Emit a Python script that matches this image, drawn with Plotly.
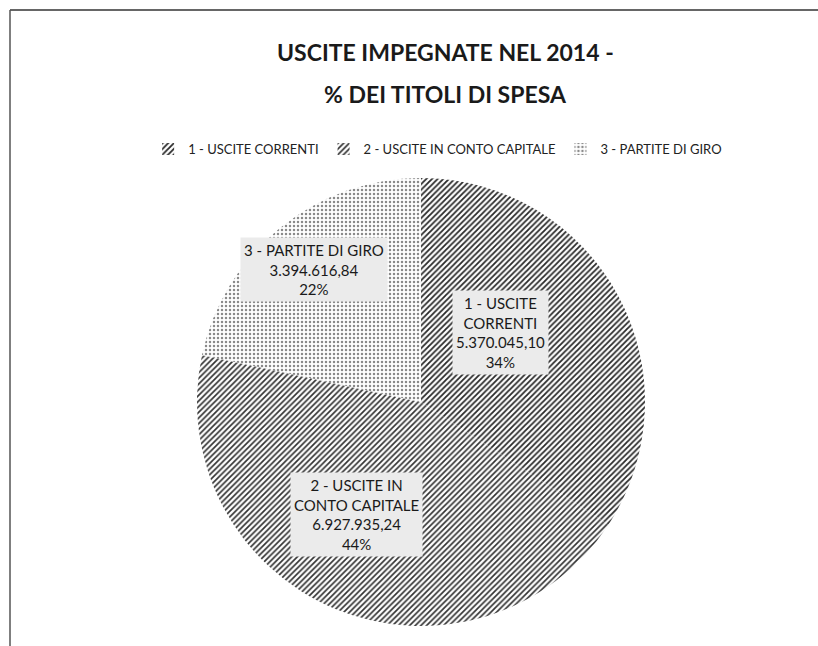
import math
import plotly.graph_objects as go

categories = ["1 - USCITE CORRENTI", "2 - USCITE IN CONTO CAPITALE", "3 - PARTITE DI GIRO"]
label_lines = ["1 - USCITE<br>CORRENTI", "2 - USCITE IN<br>CONTO CAPITALE", "3 - PARTITE DI GIRO"]
values = [5370045.10, 6927935.24, 3394616.84]
value_labels = ["5.370.045,10", "6.927.935,24", "3.394.616,84"]
pct_labels = ["34%", "44%", "22%"]
title_lines = ["USCITE IMPEGNATE NEL 2014 -", "% DEI TITOLI DI SPESA"]

W, H = 818, 646
cx, cy, r = 421, 402, 224
label_radius = [0.65, 0.75, 0.76]
FONT = "Lato, 'Open Sans', sans-serif"

fig = go.Figure()
fig.add_trace(go.Pie(
    labels=categories,
    values=values,
    textinfo="none",
    sort=False,
    direction="clockwise",
    rotation=0,
    marker=dict(
        colors=["#787878", "#838383", "#d8d8d8"],
        line=dict(width=0),
        pattern=dict(shape=["/", "/", "."], fgcolor=["#2a2a2a", "#333333", "#8a8a8a"],
                     size=[4, 4, 4], solidity=[0.45, 0.42, 0.3]),
    ),
    domain=dict(x=[(cx - r) / W, (cx + r) / W], y=[(H - cy - r) / H, (H - cy + r) / H]),
    hoverinfo="skip",
))

# data labels placed at each slice's mid-angle (computed from the values)
total = sum(values)
annotations = []
cum = 0.0
for i, v in enumerate(values):
    mid = (cum + v / 2) / total * 2 * math.pi
    cum += v
    px = cx + label_radius[i] * r * math.sin(mid)
    py = cy - label_radius[i] * r * math.cos(mid)
    annotations.append(dict(
        x=px / W, y=1 - py / H, xref="paper", yref="paper",
        text=f"{label_lines[i]}<br>{value_labels[i]}<br>{pct_labels[i]}",
        showarrow=False, align="center",
        font=dict(family=FONT, size=15, color="#1a1a1a"),
        bgcolor="#ebebeb", borderpad=3,
    ))

for t, ty in zip(title_lines, [52, 94]):
    annotations.append(dict(
        x=445 / W, y=1 - ty / H, xref="paper", yref="paper",
        text=f"<b>{t}</b>", showarrow=False, xanchor="center", yanchor="middle",
        font=dict(family=FONT, size=23, color="#1a1a1a"),
    ))

fig.update_layout(
    width=W, height=H,
    margin=dict(l=0, r=0, t=0, b=0),
    paper_bgcolor="white",
    font=dict(family=FONT, color="#222222"),
    annotations=annotations,
    legend=dict(
        orientation="h", x=0.535, xanchor="center", y=1 - 149 / H, yanchor="middle",
        font=dict(family=FONT, size=13, color="#222222"),
        itemwidth=30,
    ),
    shapes=[
        dict(type="line", xref="paper", yref="paper", x0=10 / W, x1=1, y0=1 - 10 / H, y1=1 - 10 / H,
             line=dict(color="#333333", width=1.5)),
        dict(type="line", xref="paper", yref="paper", x0=10 / W, x1=10 / W, y0=0, y1=1 - 10 / H,
             line=dict(color="#555555", width=1.5)),
    ],
)

fig.write_html("out.html", config={"displayModeBar": False},
               post_script="document.body.style.margin='0';document.body.style.overflow='hidden';")
